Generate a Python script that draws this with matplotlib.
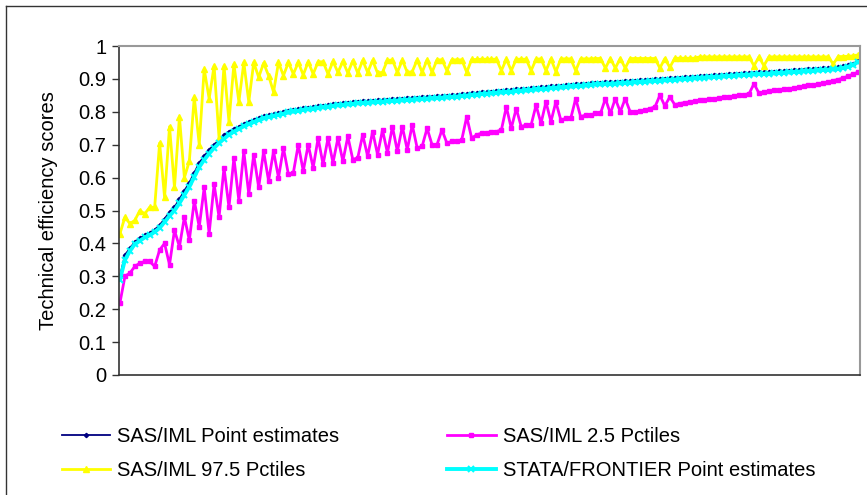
import numpy as np
from matplotlib import pyplot as plt
from matplotlib.lines import Line2D

# hodnoty (serazene podniky)
sas_point = [0.300, 0.365, 0.385, 0.405, 0.415, 0.425, 0.432, 0.442, 0.455, 0.475,
             0.495, 0.510, 0.535, 0.560, 0.585, 0.615, 0.645, 0.665, 0.685, 0.700,
             0.715, 0.728, 0.740, 0.748, 0.755, 0.763, 0.770, 0.776, 0.781, 0.786,
             0.790, 0.794, 0.797, 0.800, 0.803, 0.806, 0.808, 0.811, 0.813, 0.815,
             0.817, 0.819, 0.821, 0.823, 0.825, 0.826, 0.828, 0.829, 0.831, 0.832,
             0.833, 0.834, 0.835, 0.836, 0.837, 0.838, 0.839, 0.840, 0.841, 0.842,
             0.843, 0.844, 0.845, 0.846, 0.847, 0.848, 0.849, 0.850, 0.851, 0.853,
             0.854, 0.856, 0.857, 0.859, 0.860, 0.861, 0.863, 0.864, 0.865, 0.866,
             0.868, 0.869, 0.870, 0.871, 0.873, 0.874, 0.875, 0.877, 0.878, 0.879,
             0.880, 0.882, 0.883, 0.884, 0.885, 0.887, 0.888, 0.889, 0.890, 0.890,
             0.891, 0.892, 0.893, 0.894, 0.895, 0.896, 0.897, 0.898, 0.899, 0.900,
             0.901, 0.902, 0.903, 0.904, 0.905, 0.906, 0.907, 0.908, 0.909, 0.910,
             0.911, 0.912, 0.913, 0.914, 0.915, 0.916, 0.917, 0.918, 0.919, 0.920,
             0.920, 0.921, 0.922, 0.923, 0.924, 0.925, 0.926, 0.927, 0.928, 0.929,
             0.930, 0.931, 0.932, 0.933, 0.934, 0.936, 0.938, 0.941, 0.946, 0.955]

sas_p025 = [0.220, 0.300, 0.310, 0.330, 0.340, 0.345, 0.345, 0.330, 0.380, 0.400,
            0.335, 0.440, 0.390, 0.480, 0.410, 0.530, 0.450, 0.570, 0.430, 0.580,
            0.480, 0.630, 0.510, 0.660, 0.530, 0.680, 0.550, 0.670, 0.570, 0.680,
            0.590, 0.680, 0.600, 0.690, 0.610, 0.615, 0.700, 0.620, 0.700, 0.630,
            0.720, 0.640, 0.720, 0.645, 0.720, 0.650, 0.725, 0.655, 0.660, 0.730,
            0.665, 0.740, 0.670, 0.745, 0.675, 0.755, 0.680, 0.755, 0.685, 0.760,
            0.690, 0.695, 0.750, 0.700, 0.700, 0.745, 0.705, 0.710, 0.710, 0.715,
            0.785, 0.720, 0.730, 0.735, 0.735, 0.740, 0.740, 0.745, 0.815, 0.750,
            0.810, 0.755, 0.760, 0.760, 0.820, 0.765, 0.830, 0.770, 0.830, 0.775,
            0.780, 0.780, 0.840, 0.785, 0.790, 0.790, 0.795, 0.795, 0.840, 0.795,
            0.840, 0.800, 0.840, 0.800, 0.800, 0.802, 0.805, 0.810, 0.815, 0.850,
            0.818, 0.845, 0.822, 0.825, 0.828, 0.830, 0.832, 0.835, 0.836, 0.838,
            0.840, 0.842, 0.845, 0.845, 0.848, 0.850, 0.852, 0.855, 0.885, 0.857,
            0.860, 0.862, 0.865, 0.866, 0.868, 0.870, 0.872, 0.875, 0.877, 0.880,
            0.882, 0.885, 0.888, 0.890, 0.895, 0.898, 0.903, 0.908, 0.915, 0.920]

sas_p975 = [0.430, 0.480, 0.460, 0.470, 0.500, 0.490, 0.510, 0.510, 0.705, 0.540,
            0.755, 0.570, 0.785, 0.600, 0.650, 0.845, 0.700, 0.930, 0.840, 0.940,
            0.720, 0.940, 0.770, 0.945, 0.830, 0.950, 0.830, 0.950, 0.905, 0.948,
            0.910, 0.860, 0.950, 0.910, 0.950, 0.915, 0.950, 0.912, 0.952, 0.915,
            0.952, 0.952, 0.915, 0.953, 0.920, 0.953, 0.918, 0.955, 0.918, 0.956,
            0.920, 0.956, 0.918, 0.920, 0.957, 0.957, 0.920, 0.957, 0.920, 0.922,
            0.958, 0.920, 0.958, 0.920, 0.958, 0.958, 0.925, 0.958, 0.958, 0.958,
            0.920, 0.959, 0.959, 0.960, 0.960, 0.960, 0.960, 0.925, 0.960, 0.925,
            0.960, 0.960, 0.960, 0.925, 0.960, 0.961, 0.925, 0.961, 0.922, 0.961,
            0.961, 0.961, 0.925, 0.961, 0.961, 0.961, 0.962, 0.962, 0.933, 0.962,
            0.933, 0.962, 0.933, 0.962, 0.962, 0.962, 0.962, 0.962, 0.962, 0.933,
            0.962, 0.935, 0.963, 0.963, 0.963, 0.963, 0.963, 0.967, 0.967, 0.967,
            0.967, 0.967, 0.967, 0.967, 0.967, 0.967, 0.967, 0.967, 0.940, 0.967,
            0.940, 0.967, 0.967, 0.967, 0.967, 0.967, 0.967, 0.967, 0.967, 0.967,
            0.967, 0.967, 0.967, 0.967, 0.945, 0.968, 0.968, 0.969, 0.970, 0.973]

stata_point = [0.290, 0.350, 0.377, 0.398, 0.408, 0.418, 0.425, 0.435, 0.447, 0.465,
               0.484, 0.500, 0.522, 0.547, 0.572, 0.602, 0.632, 0.654, 0.673, 0.690,
               0.705, 0.718, 0.731, 0.740, 0.748, 0.756, 0.763, 0.769, 0.775, 0.780,
               0.784, 0.788, 0.791, 0.794, 0.798, 0.801, 0.803, 0.806, 0.808, 0.810,
               0.812, 0.814, 0.816, 0.818, 0.820, 0.821, 0.823, 0.824, 0.826, 0.827,
               0.828, 0.829, 0.830, 0.831, 0.832, 0.833, 0.834, 0.835, 0.836, 0.837,
               0.838, 0.839, 0.840, 0.841, 0.842, 0.843, 0.844, 0.845, 0.846, 0.848,
               0.849, 0.851, 0.852, 0.854, 0.855, 0.856, 0.858, 0.859, 0.860, 0.861,
               0.863, 0.864, 0.865, 0.866, 0.868, 0.869, 0.870, 0.872, 0.873, 0.874,
               0.875, 0.877, 0.878, 0.879, 0.880, 0.882, 0.883, 0.884, 0.885, 0.885,
               0.886, 0.887, 0.888, 0.889, 0.890, 0.891, 0.892, 0.893, 0.894, 0.895,
               0.896, 0.897, 0.898, 0.899, 0.900, 0.901, 0.902, 0.903, 0.904, 0.905,
               0.906, 0.907, 0.908, 0.909, 0.910, 0.911, 0.912, 0.913, 0.914, 0.915,
               0.915, 0.916, 0.917, 0.918, 0.919, 0.920, 0.921, 0.922, 0.923, 0.924,
               0.925, 0.926, 0.927, 0.928, 0.929, 0.931, 0.933, 0.937, 0.943, 0.951]

nazvy = ["SAS/IML Point estimates", "SAS/IML 2.5 Pctiles",
         "SAS/IML 97.5 Pctiles", "STATA/FRONTIER Point estimates"]

plt.rcParams['font.family'] = ['Liberation Sans', 'DejaVu Sans']

fig = plt.figure(figsize=(8.67, 4.95), dpi=100)
ax = fig.add_axes([119 / 867, 1 - 375 / 495, 741 / 867, 329 / 495])

x = np.arange(len(sas_point))
l1, = ax.plot(x, sas_point, color='#000080', lw=1.3, marker='D', ms=2.2, label=nazvy[0])
l2, = ax.plot(x, sas_p025, color='#ff00ff', lw=2, marker='s', ms=3.5, label=nazvy[1])
l3, = ax.plot(x, sas_p975, color='#ffff00', lw=2, marker='^', ms=4.5, label=nazvy[2])
l4, = ax.plot(x, stata_point, color='#00ffff', lw=2.8, marker='x', ms=4.5, mew=1.5, label=nazvy[3])

ax.set_xlim(-0.2, len(x) - 0.6)
ax.set_ylim(0, 1)
ax.set_yticks(np.arange(0, 1.01, 0.1))
ax.set_yticklabels(['0', '0.1', '0.2', '0.3', '0.4', '0.5', '0.6', '0.7', '0.8', '0.9', '1'])
ax.set_xticks([])
ax.tick_params(axis='y', labelsize=14.5, length=5, width=1, direction='out', color='#333333', pad=4)
ax.set_ylabel("Technical efficiency scores", fontsize=14.5, labelpad=14.5)

for s in ['left', 'bottom']:
    ax.spines[s].set_color('#333333')
    ax.spines[s].set_linewidth(1.2)
for s in ['top', 'right']:
    ax.spines[s].set_color('#999999')
    ax.spines[s].set_linewidth(1.5)

# ramecek celeho grafu (jen levy a horni okraj je videt)
fig.add_artist(Line2D([6 / 867, 6 / 867], [0, 1 - 6 / 495], color='#333333', lw=1, transform=fig.transFigure))
fig.add_artist(Line2D([6 / 867, 1], [1 - 6 / 495, 1 - 6 / 495], color='#333333', lw=1, transform=fig.transFigure))

# legenda po radcich jako v Excelu
fig.legend(handles=[l1, l3, l2, l4], ncol=2, loc='upper left',
           bbox_to_anchor=(62 / 867, 1 - 427 / 495), frameon=False,
           fontsize=14.5, numpoints=1, handlelength=2.4, handletextpad=0.35,
           columnspacing=5.35, labelspacing=0.75, borderaxespad=0, borderpad=0)

fig.savefig("out.png", dpi=100)
